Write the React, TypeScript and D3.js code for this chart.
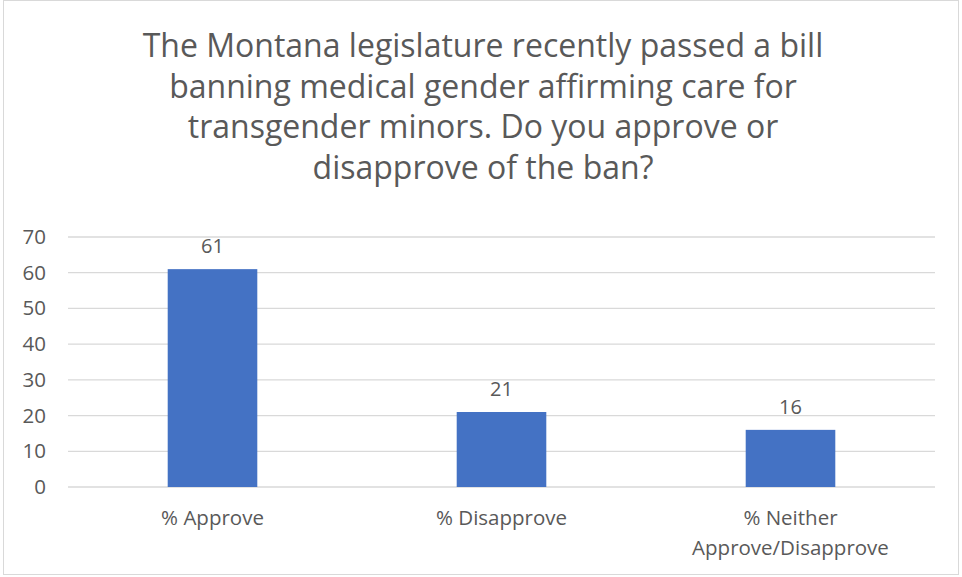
import React from "react";
import * as d3 from "d3";

const titleLines = [
  "The Montana legislature recently passed a bill",
  "banning medical gender affirming care for",
  "transgender minors. Do you approve or",
  "disapprove of the ban?",
];
const categories = ["% Approve", "% Disapprove", "% Neither Approve/Disapprove"];
const categoryLines = [["% Approve"], ["% Disapprove"], ["% Neither", "Approve/Disapprove"]];
const values = [61, 21, 16];
const yTicks = [0, 10, 20, 30, 40, 50, 60, 70];

const W = 962;
const H = 577;
const FONT = "'Open Sans', sans-serif";
const TEXT = "#595959";

export default function App() {
  const left = 68, right = 935, top = 237, bottom = 487;
  const x = d3.scaleBand<string>().domain(categories).range([left, right]).paddingInner(0.69).paddingOuter(0.345);
  const y = d3.scaleLinear().domain([0, 70]).range([bottom, top]);
  return (
    <svg width={W} height={H} style={{ position: "absolute", left: 0, top: 0, background: "#fff" }} fontFamily={FONT}>
      <rect x={3.5} y={0.5} width={955} height={574} fill="#fff" stroke="#D9D9D9" />
      {titleLines.map((t, i) => (
        <text key={i} x={483} y={57 + i * 40.5} textAnchor="middle" fontSize={32} fill={TEXT}>{t}</text>
      ))}
      {yTicks.map((t) => (
        <g key={t}>
          <line x1={left} x2={right} y1={y(t)} y2={y(t)} stroke="#D9D9D9" strokeWidth={1.3} />
          <text x={46} y={y(t) + 7} textAnchor="end" fontSize={20.5} fill={TEXT}>{t}</text>
        </g>
      ))}
      {categories.map((c, i) => (
        <g key={c}>
          <rect x={x(c)} y={y(values[i])} width={x.bandwidth()} height={y(0) - y(values[i])} fill="#4472C4" />
          <text x={(x(c) as number) + x.bandwidth() / 2} y={y(values[i]) - 16} textAnchor="middle" fontSize={20} fill={TEXT}>{values[i]}</text>
          {categoryLines[i].map((l, j) => (
            <text key={j} x={(x(c) as number) + x.bandwidth() / 2} y={525 + j * 30} textAnchor="middle" fontSize={20.5} fill={TEXT}>{l}</text>
          ))}
        </g>
      ))}
    </svg>
  );
}
